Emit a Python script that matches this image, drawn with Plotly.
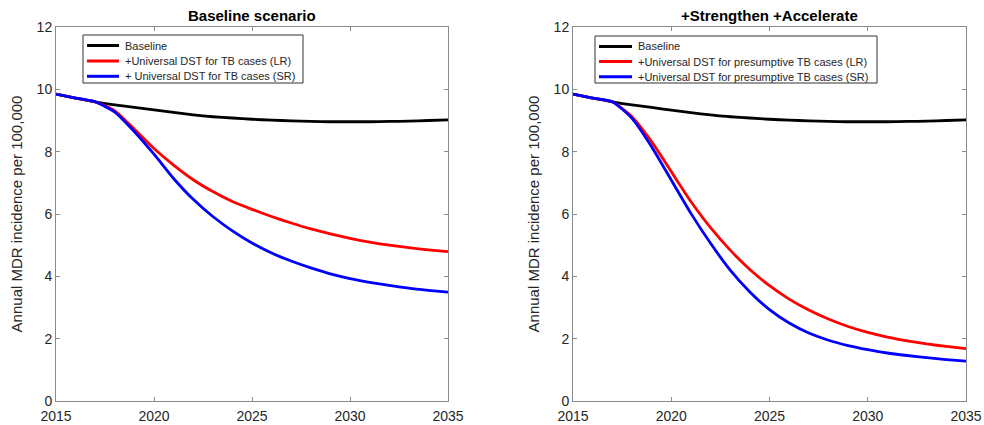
import plotly.graph_objects as go

years = list(range(2015, 2036))

# Left panel: Baseline scenario
base_left = [9.85, 9.72, 9.60, 9.50, 9.42, 9.34, 9.26, 9.18, 9.12, 9.08, 9.04,
             9.01, 8.99, 8.97, 8.96, 8.96, 8.96, 8.97, 8.98, 9.00, 9.02]
lr_left = [9.85, 9.72, 9.60, 9.31, 8.72, 8.10, 7.57, 7.10, 6.72, 6.40, 6.15,
           5.92, 5.71, 5.52, 5.36, 5.22, 5.10, 5.00, 4.92, 4.85, 4.79]
sr_left = [9.85, 9.72, 9.60, 9.27, 8.64, 7.92, 7.14, 6.47, 5.92, 5.46, 5.07,
           4.75, 4.49, 4.27, 4.08, 3.93, 3.81, 3.71, 3.62, 3.55, 3.49]

# Right panel: +Strengthen +Accelerate
base_right = [9.85, 9.72, 9.60, 9.50, 9.42, 9.33, 9.25, 9.18, 9.12, 9.08, 9.04,
              9.01, 8.99, 8.97, 8.96, 8.96, 8.96, 8.97, 8.98, 9.00, 9.02]
lr_right = [9.85, 9.72, 9.60, 9.12, 8.32, 7.36, 6.40, 5.56, 4.84, 4.22, 3.70,
            3.27, 2.92, 2.63, 2.39, 2.20, 2.05, 1.93, 1.83, 1.75, 1.68]
sr_right = [9.85, 9.72, 9.60, 9.07, 8.16, 7.09, 6.02, 5.06, 4.20, 3.50, 2.93,
            2.50, 2.18, 1.95, 1.78, 1.65, 1.54, 1.46, 1.39, 1.33, 1.28]

names_left = ["Baseline", "+Universal DST for TB cases (LR)", "+ Universal DST for TB cases (SR)"]
names_right = ["Baseline", "+Universal DST for presumptive TB cases (LR)",
               "+Universal DST for presumptive TB cases (SR)"]
titles = ["Baseline scenario", "+Strengthen +Accelerate"]
y_title = "Annual MDR incidence per 100,000"
colors = ["#000000", "#ff0000", "#0000ff"]

x_ticks = [2015, 2020, 2025, 2030, 2035]
y_ticks = [0, 2, 4, 6, 8, 10, 12]

W, H = 984, 425
fig = go.Figure()
for data, names, xa, ya in [
    ((base_left, lr_left, sr_left), names_left, "x", "y"),
    ((base_right, lr_right, sr_right), names_right, "x2", "y2"),
]:
    for vals, nm, c in zip(data, names, colors):
        fig.add_trace(go.Scatter(x=years, y=vals, name=nm, mode="lines",
                                 line=dict(color=c, width=2.8, shape="spline", smoothing=0.6),
                                 xaxis=xa, yaxis=ya, showlegend=False))

font_family = "Liberation Sans, Arial, sans-serif"
axis_common = dict(showline=True, linecolor="#8a8a8a", linewidth=1, mirror="ticks",
                   ticks="inside", ticklen=4, tickcolor="#8a8a8a", showgrid=False,
                   zeroline=False, tickfont=dict(size=14, color="#262626", family=font_family))

# manual legends (MATLAB-style compact boxes), pixel positions
shapes = []
annotations = []
legend_specs = [
    (names_left, 83, 303, 35, 83, 87, 119, 123, [45.5, 61, 76.3]),
    (names_right, 595, 877, 36, 83, 599, 632, 636, [46.5, 61.5, 76.7]),
]
for names, bx0, bx1, by0, by1, lx0, lx1, tx, rows in legend_specs:
    shapes.append(dict(type="rect", xref="paper", yref="paper",
                       x0=bx0 / W, x1=bx1 / W, y0=1 - by1 / H, y1=1 - by0 / H,
                       line=dict(color="#333333", width=1), fillcolor="white", layer="above"))
    for nm, c, ry in zip(names, colors, rows):
        shapes.append(dict(type="line", xref="paper", yref="paper",
                           x0=lx0 / W, x1=lx1 / W, y0=1 - ry / H, y1=1 - ry / H,
                           line=dict(color=c, width=3), layer="above"))
        annotations.append(dict(text=nm, x=tx / W, y=1 - ry / H, xref="paper", yref="paper",
                                xanchor="left", yanchor="middle", showarrow=False,
                                font=dict(size=11, color="#262626", family=font_family)))

for t, cx in zip(titles, [(56 + 448) / 2, (573 + 966) / 2]):
    annotations.append(dict(text="<b>%s</b>" % t, x=cx / W, y=1 - 16 / H, xref="paper", yref="paper",
                            xanchor="center", yanchor="middle", showarrow=False,
                            font=dict(size=15, color="#000000", family=font_family)))

fig.update_layout(
    width=W, height=H,
    margin=dict(l=0, r=0, t=0, b=0, autoexpand=False),
    paper_bgcolor="white", plot_bgcolor="white",
    font=dict(family=font_family, color="#262626"),
    xaxis=dict(domain=[56 / W, 448 / W], range=[2015, 2035], tickvals=x_ticks,
               anchor="y", ticklabelstandoff=2, **axis_common),
    yaxis=dict(domain=[24 / H, 398 / H], range=[0, 12], tickvals=y_ticks, anchor="x",
               title=dict(text=y_title, font=dict(size=15), standoff=10),
               **axis_common),
    xaxis2=dict(domain=[573 / W, 966 / W], range=[2015, 2035], tickvals=x_ticks,
                anchor="y2", ticklabelstandoff=2, **axis_common),
    yaxis2=dict(domain=[24 / H, 398 / H], range=[0, 12], tickvals=y_ticks, anchor="x2",
                title=dict(text=y_title, font=dict(size=15), standoff=10),
                **axis_common),
    shapes=shapes,
    annotations=annotations,
    showlegend=False,
)

fig.write_html("out.html")
